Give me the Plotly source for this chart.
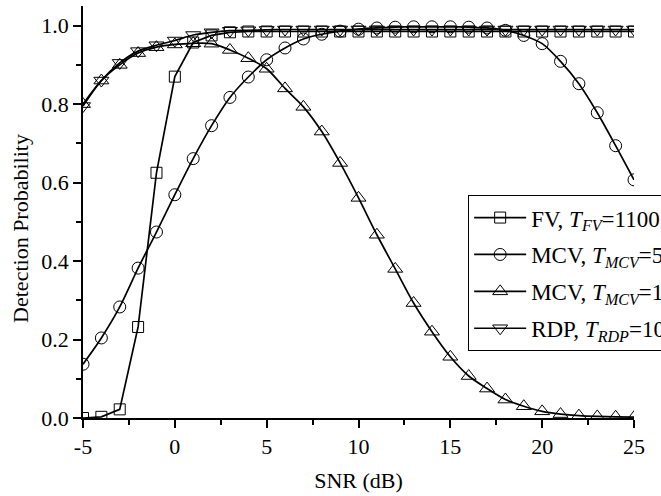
import plotly.graph_objects as go

snr = list(range(-5, 26))

fv = [0.0, 0.003, 0.022, 0.232, 0.625, 0.87, 0.957, 0.975, 0.983, 0.985, 0.985,
      0.985, 0.985, 0.985, 0.985, 0.985, 0.985, 0.985, 0.985, 0.985, 0.985,
      0.985, 0.985, 0.985, 0.985, 0.985, 0.985, 0.985, 0.985, 0.985, 0.985]

mcv50 = [0.137, 0.204, 0.283, 0.382, 0.474, 0.569, 0.661, 0.745, 0.817, 0.869,
         0.913, 0.943, 0.966, 0.978, 0.986, 0.991, 0.994, 0.996, 0.997, 0.997,
         0.997, 0.996, 0.994, 0.988, 0.975, 0.954, 0.909, 0.852, 0.778, 0.694, 0.607]

mcv10 = [0.80, 0.86, 0.90, 0.93, 0.945, 0.952, 0.955, 0.954, 0.938, 0.917,
         0.89, 0.84, 0.793, 0.73, 0.65, 0.561, 0.467, 0.38, 0.293, 0.22,
         0.156, 0.107, 0.075, 0.047, 0.03, 0.017, 0.01, 0.006, 0.004, 0.003, 0.002]

rdp = [0.795, 0.86, 0.905, 0.935, 0.95, 0.962, 0.976, 0.983, 0.987, 0.988,
       0.989, 0.99, 0.99, 0.99, 0.99, 0.99, 0.99, 0.99, 0.99, 0.99,
       0.99, 0.99, 0.99, 0.99, 0.99, 0.99, 0.99, 0.99, 0.99, 0.99, 0.99]

names = ["FV, <i>T</i><sub><i>FV</i></sub>=1100",
         "MCV, <i>T</i><sub><i>MCV</i></sub>=50",
         "MCV, <i>T</i><sub><i>MCV</i></sub>=10",
         "RDP, <i>T</i><sub><i>RDP</i></sub>=10"]

x_tickvals = [-5, 0, 5, 10, 15, 20, 25]
x_ticktext = ["-5", "0", "5", "10", "15", "20", "25"]
y_tickvals = [0.0, 0.2, 0.4, 0.6, 0.8, 1.0]
y_ticktext = ["0.0", "0.2", "0.4", "0.6", "0.8", "1.0"]

series = [
    (fv, names[0], "square-open", 11, "linear"),
    (mcv50, names[1], "circle-open", 12, "spline"),
    (mcv10, names[2], "triangle-up-open", 13, "spline"),
    (rdp, names[3], "triangle-down-open", 13, "spline"),
]

fig = go.Figure()
for i, (ys, nm, sym, sz, shape) in enumerate(series):
    fig.add_trace(go.Scatter(
        x=snr, y=ys, name=nm, mode="lines+markers",
        line=dict(color="black", width=1.7, shape=shape, smoothing=0.8),
        marker=dict(symbol=sym, size=sz, color="black", line=dict(width=1, color="black")),
        legendgroup=f"g{i}",
    ))

font = "Liberation Serif, Times New Roman, serif"
fig.update_layout(
    width=661, height=496,
    margin=dict(l=83, r=27, t=6, b=78, autoexpand=False),
    paper_bgcolor="white", plot_bgcolor="white",
    font=dict(family=font, size=22, color="black"),
    showlegend=True,
    legend=dict(x=0.699, y=0.541, xanchor="left", yanchor="top",
                bordercolor="black", borderwidth=1, bgcolor="white",
                traceorder="grouped", tracegroupgap=4, itemwidth=52,
                font=dict(family=font, size=23, color="black")),
    xaxis=dict(range=[-5, 25], tickvals=x_tickvals, ticktext=x_ticktext,
               showline=True, linecolor="black", linewidth=1.5,
               ticks="outside", ticklen=8, tickwidth=1.5, tickcolor="black",
               showgrid=False, zeroline=False,
               minor=dict(dtick=2.5, tick0=-5, ticks="outside", ticklen=5, tickwidth=1.5, tickcolor="black", showgrid=False),
               title=dict(text="SNR (dB)", standoff=14, font=dict(family=font, size=22))),
    yaxis=dict(range=[0, 1.05], tickvals=y_tickvals, ticktext=y_ticktext,
               showline=True, linecolor="black", linewidth=1.5,
               ticks="outside", ticklen=8, tickwidth=1.5, tickcolor="black",
               showgrid=False, zeroline=False,
               minor=dict(dtick=0.1, tick0=0, ticks="outside", ticklen=5, tickwidth=1.5, tickcolor="black", showgrid=False),
               title=dict(text="")),
    annotations=[dict(text="Detection Probability", textangle=-90,
                      xref="paper", yref="paper", x=0, y=0.459,
                      xshift=-62, xanchor="center", yanchor="middle",
                      showarrow=False, font=dict(family=font, size=22))],
)

fig.write_html("out.html")
